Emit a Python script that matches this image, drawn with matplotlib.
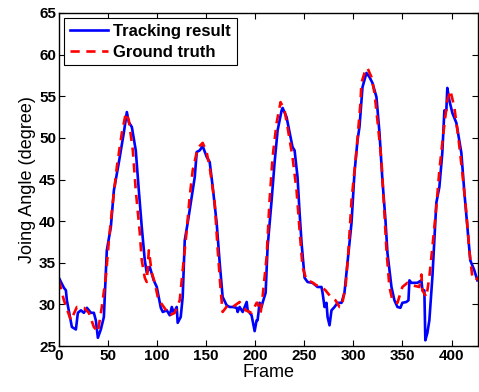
import matplotlib
matplotlib.use("Agg")
import matplotlib.pyplot as plt

# tracking result (blue)
track_x = [0, 5.1, 7.1, 8.1, 13.2, 17.3, 19.3, 22.4, 25.4, 28.5, 32.6, 35.6, 37.6, 39.7,
           42.7, 45.8, 48.8, 52.9, 56, 61, 66.1, 69.2, 71.2, 74.3, 78.3, 81.4, 84.4, 87.5,
           89.5, 92.6, 96.6, 99.7, 103.8, 105.8, 109.9, 112.9, 115, 117, 120, 121, 124.1,
           126.1, 128.2, 131.2, 135.3, 138.4, 140.4, 143.4, 146.5, 150.6, 153.6, 156.7,
           160.7, 163.8, 166.8, 170.9, 174, 177, 181.1, 182.1, 184.1, 187.2, 191.3, 192.3,
           196.3, 199.4, 201.4, 202.4, 204.5, 206.5, 207.5, 210.6, 212.6, 216.7, 219.7,
           222.8, 226.9, 227.9, 231.9, 235, 238, 240.1, 243.1, 245.2, 247.2, 250.3, 253.3,
           258.4, 263.5, 267.5, 268.6, 270.6, 272.6, 273.7, 275.7, 277.7, 280.8, 283.8,
           287.9, 290.9, 294, 298.1, 301.1, 304.2, 306.2, 309.3, 313.3, 316.4, 319.4,
           323.5, 326.6, 329.6, 332.7, 334.7, 338.8, 341.8, 344.9, 347.9, 349.9, 354,
           356.1, 357.1, 359.1, 362.2, 365.2, 369.3, 370.3, 372.3, 373.3, 375.4, 377.4,
           380.5, 384.5, 387.6, 390.6, 392.7, 394.7, 395.7, 397.8, 400.8, 404.9, 410,
           413.1, 416.1, 419.1, 423.2, 426.3]
track_y = [33.2, 32.0, 31.7, 30.5, 27.3, 27.0, 29.0, 29.3, 29.0, 29.6, 29.0, 29.0, 28.1, 26.0,
           27.0, 28.5, 36.5, 39.3, 43.7, 47.0, 50.6, 53.1, 51.9, 51.3, 48.5, 43.7, 39.3, 35.3,
           33.8, 34.5, 32.9, 32.1, 29.6, 29.1, 29.3, 28.7, 29.7, 29.0, 29.7, 27.8, 28.5,
           30.9, 37.7, 39.8, 42.9, 45.3, 48.3, 48.5, 49.0, 47.7, 47.1, 44.1,
           39.8, 35.0, 30.9, 29.9, 29.7, 29.7, 29.6, 29.1, 29.7, 29.1, 30.3, 29.3,
           28.7, 26.8, 28.1, 28.1, 30.2, 29.7, 30.2, 31.4, 36.9, 42.5, 47.0,
           50.9, 53.3, 53.6, 52.5, 50.7, 48.9, 48.5, 45.3, 41.0, 37.4, 33.2, 32.7,
           32.6, 32.1, 32.1, 31.4, 29.7, 30.2, 28.5, 27.5, 29.3, 29.7, 30.2,
           30.2, 31.4, 35.0, 39.8, 45.8, 49.7, 51.3, 56.1, 57.8, 57.3, 56.6,
           54.9, 50.6, 44.9, 40.1, 36.2, 32.1, 30.5, 29.7, 29.6, 30.2, 30.3,
           30.5, 32.9, 32.6, 32.6, 32.6, 32.9, 31.7, 31.7, 25.7, 26.6, 28.1,
           33.3, 42.2, 44.1, 48.2, 53.3, 53.3, 56.0, 54.5, 53.0, 51.8, 48.2,
           43.4, 39.3, 35.3, 34.1, 32.9]

# ground truth (red dashed)
truth_x = [0, 5.1, 12.2, 18.3, 25.4, 30.5, 35.6, 39.7, 43.7, 47.8, 50.9, 54, 59, 64.1,
           68.2, 71.2, 75.3, 78.3, 82.4, 84.4, 87.5, 89.5, 91.6, 94.6, 97.7, 100.7, 103.8,
           112.9, 118, 123.1, 126.1, 130.2, 133.2, 136.3, 141.4, 146.5, 150.6, 153.6,
           158.7, 161.8, 164.8, 166.8, 171.9, 177, 184.1, 190.2, 196.3, 201.4, 202.4,
           205.5, 207.5, 211.6, 214.6, 217.7, 221.8, 225.8, 229.9, 232.9, 238, 242.1,
           245.2, 248.2, 252.3, 257.4, 262.5, 267.5, 271.6, 277.7, 281.8, 285.9, 287.9,
           292, 295, 298.1, 303.2, 307.2, 308.2, 311.3, 314.3, 318.4, 321.5, 324.5,
           328.6, 331.6, 333.7, 336.7, 339.8, 344.9, 349.9, 355, 360.1, 367.2, 369.3,
           370.3, 374.4, 377.4, 380.5, 384.5, 387.6, 391.7, 395.7, 398.8, 402.8, 406.9,
           411, 415.1, 418.1, 421.2, 425.2, 427]
truth_y = [32.9, 30.5, 28.1, 29.7, 29.6, 29.0, 27.3, 26.7, 29.7, 33.3, 37.7, 41.3, 46.5, 50.6,
           53.0, 52.1, 48.5, 43.7, 38.6, 35.3, 33.2, 32.7, 36.5, 33.8, 32.6, 30.9, 30.2,
           28.7, 29.0, 30.5, 34.1, 38.9, 42.9, 46.1, 48.8, 49.4, 48.2, 46.5,
           42.2, 36.5, 31.7, 29.1, 29.9, 29.7, 30.3, 29.3, 29.0, 30.2, 30.2,
           29.0, 30.9, 35.7, 42.5, 47.7, 51.8, 54.3, 53.3, 51.3, 47.7, 43.7,
           38.9, 34.5, 32.9, 32.7, 32.3, 32.1, 31.7, 30.8, 30.5, 29.7, 29.7,
           32.1, 36.5, 42.5, 48.5, 54.2, 56.6, 57.8, 58.4, 57.3, 55.4, 52.1,
           47.3, 41.0, 36.5, 32.1, 30.5, 30.2, 32.1, 32.6, 32.3, 32.1, 33.6,
           31.7, 30.9, 33.3, 36.9, 41.7, 46.1, 50.6, 54.5, 55.7, 53.7, 50.1,
           45.8, 41.0, 36.5, 33.3, 32.9, 33.3]

x_ticks = [0, 50, 100, 150, 200, 250, 300, 350, 400]
y_ticks = [25, 30, 35, 40, 45, 50, 55, 60, 65]

plt.rcParams["font.family"] = ["Liberation Sans", "DejaVu Sans"]

fig = plt.figure(figsize=(4.79, 3.92), dpi=100)
ax = fig.add_axes([0.123, 0.117, 0.875, 0.850])

ax.plot(track_x, track_y, color=(0, 0, 1), lw=1.9, label="Tracking result")
ax.plot(truth_x, truth_y, color=(1, 0, 0), lw=1.9, ls=(0, (3.5, 2.5)), label="Ground truth")

ax.set_xlim(0, 427)
ax.set_ylim(25, 65)
ax.set_xticks(x_ticks)
ax.set_yticks(y_ticks)
ax.tick_params(direction="in", top=True, right=True, length=4, width=0.8, labelsize=11, pad=2)
for lbl in ax.get_xticklabels() + ax.get_yticklabels():
    lbl.set_fontweight("bold")
for s in ax.spines.values():
    s.set_linewidth(1.0)

ax.set_xlabel("Frame", fontsize=13, labelpad=1)
ax.set_ylabel("Joing Angle (degree)", fontsize=13, labelpad=2)

leg = ax.legend(loc="upper left", fancybox=False, framealpha=1, edgecolor="black",
                prop={"weight": "bold", "size": 12}, handlelength=2.3,
                borderaxespad=0.3, borderpad=0.35, labelspacing=0.35, handletextpad=0.3)
leg.get_frame().set_linewidth(0.8)

fig.savefig("out.png", dpi=100)
